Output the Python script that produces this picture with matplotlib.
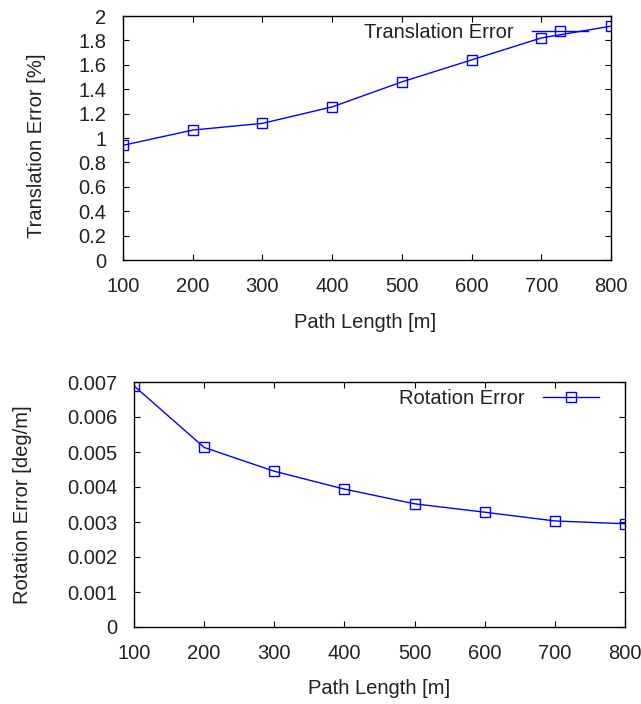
import matplotlib
matplotlib.use("Agg")
import matplotlib.pyplot as plt

plt.rcParams['font.family'] = ['Liberation Sans', 'DejaVu Sans']
plt.rcParams['font.size'] = 14.5

# data
path_length = [100, 200, 300, 400, 500, 600, 700, 800]
trans_err = [0.94, 1.065, 1.12, 1.255, 1.46, 1.64, 1.82, 1.917]
rot_err = [0.00689, 0.00513, 0.00445, 0.00394, 0.00352, 0.00328, 0.00303, 0.00295]

trans_ticks = [0, 0.2, 0.4, 0.6, 0.8, 1, 1.2, 1.4, 1.6, 1.8, 2]
trans_labels = ['0', '0.2', '0.4', '0.6', '0.8', '1', '1.2', '1.4', '1.6', '1.8', '2']
rot_ticks = [0, 0.001, 0.002, 0.003, 0.004, 0.005, 0.006, 0.007]
rot_labels = ['0', '0.001', '0.002', '0.003', '0.004', '0.005', '0.006', '0.007']

W, H = 641, 704
fig = plt.figure(figsize=(W / 100, H / 100), dpi=100)

ax1 = fig.add_axes([123 / W, 1 - 260 / H, 488 / W, 244 / H])
ax2 = fig.add_axes([134 / W, 1 - 627 / H, 491 / W, 245 / H])

style = dict(color='#0000ff', lw=1.0, marker='s', markersize=7.5,
             markerfacecolor='none', markeredgewidth=1.0)

ax1.plot(path_length, trans_err, label='Translation Error', **style)
ax2.plot(path_length, rot_err, label='Rotation Error', **style)

for ax in (ax1, ax2):
    ax.set_xlim(100, 800)
    ax.set_xticks(path_length)
    ax.tick_params(direction='in', top=True, right=True, length=4,
                   width=0.8, labelcolor='#222222')
    ax.tick_params(axis='x', pad=12)
    ax.tick_params(axis='y', pad=12)
    for s in ax.spines.values():
        s.set_linewidth(1.0)

ax1.set_ylim(0, 2)
ax1.set_yticks(trans_ticks)
ax1.set_yticklabels(trans_labels)
ax1.set_xlabel('Path Length [m]', va='center', color='#222222')
ax1.set_ylabel('Translation Error [%]', va='center', color='#222222')
ax1.xaxis.set_label_coords(0.496, -0.258)
ax1.yaxis.set_label_coords(-0.178, 0.47)

ax2.set_ylim(0, 0.007)
ax2.set_yticks(rot_ticks)
ax2.set_yticklabels(rot_labels)
ax2.set_xlabel('Path Length [m]', va='center', color='#222222')
ax2.set_ylabel('Rotation Error [deg/m]', va='center', color='#222222')
ax2.xaxis.set_label_coords(0.5, -0.253)
ax2.yaxis.set_label_coords(-0.228, 0.5)

for ax, x_off in ((ax1, 15), (ax2, 18)):
    pos = ax.get_position()
    leg = ax.legend(loc='upper right', frameon=False, markerfirst=False,
                    handlelength=2.8, handletextpad=0.9, borderaxespad=0,
                    bbox_to_anchor=(1 - x_off / (pos.width * W), 1 + 1 / (pos.height * H)))
    for t in leg.get_texts():
        t.set_color('#222222')

fig.savefig('out.png', dpi=100)
